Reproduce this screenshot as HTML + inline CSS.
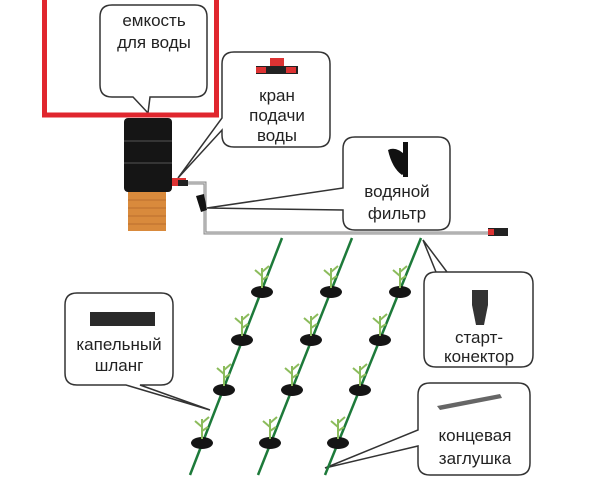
<!DOCTYPE html>
<html><head><meta charset="utf-8"><style>
body{margin:0;background:#fff}
svg{display:block}
text{font-family:"Liberation Sans",sans-serif;font-size:17px;fill:#222;text-anchor:middle}
</style></head><body>
<svg width="600" height="481" viewBox="0 0 600 481" xmlns="http://www.w3.org/2000/svg">
<defs>
<g id="p">
<ellipse cx="0" cy="0" rx="11" ry="6" fill="#151515"/>
<path d="M0 -4 V-24 M0 -16 L-7 -22 M0 -20 L7 -26 M0 -12 L6 -16" stroke="#8cbc5c" stroke-width="2" fill="none"/>
</g>
</defs>
<g fill="#fff" stroke="#333" stroke-width="1.5">
<path d="M112 5 H195 Q207 5 207 17 V85 Q207 97 195 97 H150 L148 113 L133 97 H112 Q100 97 100 85 V17 Q100 5 112 5Z"/>
<path d="M234 52 H318 Q330 52 330 64 V135 Q330 147 318 147 H234 Q222 147 222 135 V130 L178 178 L222 118 V64 Q222 52 234 52Z"/>
<path d="M355 137 H438 Q450 137 450 149 V218 Q450 230 438 230 H355 Q343 230 343 218 V210 L207 208 L343 188 V149 Q343 137 355 137Z"/>
<path d="M436 272 H521 Q533 272 533 284 V355 Q533 367 521 367 H436 Q424 367 424 355 V284 Q424 272 436 272 H447 L423 240 L436 272Z"/>
<path d="M77 293 H161 Q173 293 173 305 V373 Q173 385 161 385 H140 L210 410 L126 385 H77 Q65 385 65 373 V305 Q65 293 77 293Z"/>
<path d="M430 383 H518 Q530 383 530 395 V463 Q530 475 518 475 H430 Q418 475 418 463 V446 L325 468 L418 430 V395 Q418 383 430 383Z"/>
</g>
<rect x="44.5" y="-3" width="172" height="118" fill="none" stroke="#e0262e" stroke-width="5"/>
<text x="154" y="26">емкость</text><text x="154" y="48">для воды</text>
<text x="277" y="101">кран</text><text x="277" y="121">подачи</text><text x="277" y="141">воды</text>
<text x="397" y="197">водяной</text><text x="397" y="219">фильтр</text>
<text x="479" y="343">старт-</text><text x="479" y="362">конектор</text>
<text x="119" y="350">капельный</text><text x="119" y="371">шланг</text>
<text x="475" y="441">концевая</text><text x="475" y="464">заглушка</text>
<rect x="124" y="118" width="48" height="74" rx="4" fill="#151515"/>
<g stroke="#555" stroke-width="1"><line x1="124" y1="141" x2="172" y2="141"/><line x1="124" y1="163" x2="172" y2="163"/></g>
<rect x="128" y="192" width="38" height="39" fill="#d98a3c"/>
<g stroke="#b0652a" stroke-width="0.7"><line x1="128" y1="200" x2="166" y2="200"/><line x1="128" y1="208" x2="166" y2="208"/><line x1="128" y1="216" x2="166" y2="216"/><line x1="128" y1="224" x2="166" y2="224"/></g>
<path d="M180 183 H205 V233 H505" fill="none" stroke="#888" stroke-width="3"/>
<path d="M180 183 H205 V233 H505" fill="none" stroke="#ddd" stroke-width="1"/>
<rect x="172" y="178" width="14" height="8" fill="#d33"/><rect x="178" y="180" width="10" height="6" fill="#222"/>
<path d="M196 196 L204 194 L207 210 L201 212Z" fill="#111"/>
<rect x="488" y="228" width="20" height="8" fill="#222"/><rect x="488" y="229" width="6" height="6" fill="#d33"/>
<rect x="256" y="66" width="42" height="8" fill="#222"/><rect x="256" y="67" width="10" height="6" fill="#d33"/><rect x="286" y="67" width="10" height="6" fill="#d33"/><rect x="270" y="58" width="14" height="8" fill="#d33"/>
<path d="M388 150 Q396 146 405 155 L408 170 L402 175 Q392 168 388 150Z" fill="#111"/><rect x="403" y="142" width="5" height="35" fill="#111"/>
<path d="M472 290 H488 V305 L484 325 H476 L472 305Z" fill="#333"/>
<rect x="90" y="312" width="65" height="14" fill="#2a2a2a"/>
<path d="M437 406 L500 394 L502 398 L440 410Z" fill="#666"/>
<g stroke="#1d7a3a" stroke-width="2.5">
<line x1="282" y1="238" x2="190" y2="475"/><line x1="352" y1="238" x2="258" y2="475"/><line x1="421" y1="238" x2="325" y2="475"/>
</g>
<use href="#p" x="262" y="292"/><use href="#p" x="331" y="292"/><use href="#p" x="400" y="292"/>
<use href="#p" x="242" y="340"/><use href="#p" x="311" y="340"/><use href="#p" x="380" y="340"/>
<use href="#p" x="224" y="390"/><use href="#p" x="292" y="390"/><use href="#p" x="360" y="390"/>
<use href="#p" x="202" y="443"/><use href="#p" x="270" y="443"/><use href="#p" x="338" y="443"/>
</svg>
</body></html>
